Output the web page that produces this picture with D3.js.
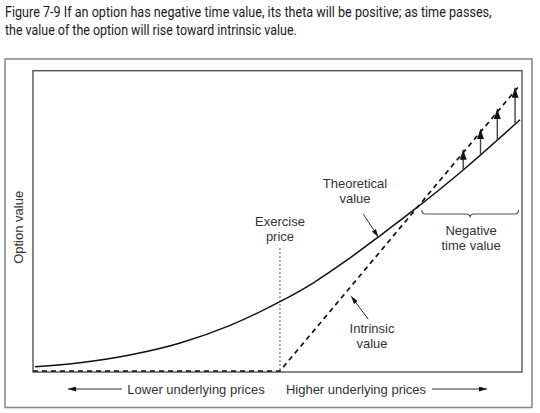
<!DOCTYPE html>
<html>
<head>
<meta charset="utf-8">
<script src="https://cdn.jsdelivr.net/npm/d3@7/dist/d3.min.js"></script>
<style>
  html, body { margin: 0; padding: 0; background: #fff; }
  svg { display: block; }
</style>
</head>
<body>
<svg id="chart" width="540" height="413"></svg>
<script>
// ---- data ----
const titleLines = [
  "Figure 7-9  If an option has negative time value, its theta will be positive; as time passes,",
  "the value of the option will rise toward intrinsic value."
];
const titleWidths = [487, 292];
const exercisePrice = 50;
const prices      = [0.4, 9.5, 19.6, 29.8, 39.9, 50.0, 56.7, 63.6, 70.3, 76.9, 87.1, 98.6];
const theoretical = [0.9, 1.57, 2.88, 4.91, 7.9, 11.9, 15.06, 18.96, 23.1, 27.3, 34.2, 42.7];
const intrinsicPrices = [0, 50, 98.6];
const intrinsicValues = [0, 0, 48.6];
const arrowPrices = [87.1, 90.6, 94.0, 97.6];
const braceRange = [78.7, 98.3];
const yLabel = "Option value";
const xLabels = ["Lower underlying prices", "Higher underlying prices"];

// ---- layout ----
const svg = d3.select("#chart");
const plot = { left: 33, right: 522, top: 70.7, bottom: 372 };
const x = d3.scaleLinear().domain([0, 99]).range([plot.left, plot.right]);
const y = d3.scaleLinear().domain([0, 51]).range([plot.bottom, plot.top]);
const theo = d3.scaleLinear().domain(prices).range(theoretical);

const labelFont = "'Liberation Sans', Arial, Helvetica, sans-serif";
const textCol = "#333";

const defs = svg.append("defs");
function marker(id, w, l) {
  defs.append("marker")
    .attr("id", id).attr("markerUnits", "userSpaceOnUse")
    .attr("viewBox", `0 ${-w/2} ${l} ${w}`)
    .attr("refX", l).attr("refY", 0)
    .attr("markerWidth", l).attr("markerHeight", w)
    .attr("orient", "auto")
    .append("path").attr("d", `M0,${-w/2}L${l},0L0,${w/2}Z`).attr("fill", "#111");
}
marker("ah", 7, 10);
marker("ahs", 5, 8);

// title (scaled horizontally to the reference's condensed width)
titleLines.forEach((line, i) => {
  const g = svg.append("g").attr("transform", `translate(5, ${17 + i * 17.5})`);
  const t = g.append("text").attr("x", 0).attr("y", 0)
    .style("font-family", "'Roboto', 'Liberation Sans', sans-serif")
    .style("font-size", "14px").style("font-weight", 400)
    .attr("fill", "#1a1a1a")
    .text(line);
  const w = t.node().getComputedTextLength();
  g.attr("transform", `translate(5, ${17 + i * 17.5}) scale(${titleWidths[i] / w}, 1)`);
});

// outer frame
svg.append("rect").attr("x", 5).attr("y", 59).attr("width", 527).attr("height", 348.5)
  .attr("fill", "none").attr("stroke", "#8a8a8a").attr("stroke-width", 1.6);

// plot frame
svg.append("rect").attr("x", plot.left).attr("y", plot.top)
  .attr("width", plot.right - plot.left).attr("height", plot.bottom - plot.top)
  .attr("fill", "none").attr("stroke", "#555").attr("stroke-width", 1.4);

// exercise price dotted line
svg.append("line")
  .attr("x1", x(exercisePrice)).attr("x2", x(exercisePrice))
  .attr("y1", 248).attr("y2", y(0))
  .attr("stroke", "#555").attr("stroke-width", 1).attr("stroke-dasharray", "2,2");

// intrinsic value dashed
const intrinsic = intrinsicPrices.map((p, i) => [p, intrinsicValues[i]]);
svg.append("path").datum(intrinsic)
  .attr("d", d3.line().x(d => x(d[0])).y(d => y(d[1]) - (d[1] === 0 ? 1 : 0)))
  .attr("fill", "none").attr("stroke", "#111").attr("stroke-width", 1.7)
  .attr("stroke-dasharray", "5,4");

// theoretical value curve
const theoPts = prices.map((p, i) => [p, theoretical[i]]);
svg.append("path").datum(theoPts)
  .attr("d", d3.line().curve(d3.curveMonotoneX).x(d => x(d[0])).y(d => y(d[1])))
  .attr("fill", "none").attr("stroke", "#111").attr("stroke-width", 1.5);

// vertical arrows (rise toward intrinsic value)
svg.selectAll("line.rise").data(arrowPrices).enter().append("line")
  .attr("class", "rise")
  .attr("x1", d => x(d)).attr("x2", d => x(d))
  .attr("y1", d => y(theo(d))).attr("y2", d => y(d - exercisePrice) - 3)
  .attr("stroke", "#444").attr("stroke-width", 1.4)
  .attr("marker-end", "url(#ah)");

// brace
{
  const x1 = x(braceRange[0]), x2 = x(braceRange[1]), mx = (x1 + x2) / 2;
  const y0 = 210, y1 = 214, y2 = 217.5, r = 4;
  svg.append("path")
    .attr("d", `M${x1},${y0} Q${x1},${y1} ${x1 + r},${y1} L${mx - r},${y1} Q${mx},${y1} ${mx},${y2} Q${mx},${y1} ${mx + r},${y1} L${x2 - r},${y1} Q${x2},${y1} ${x2},${y0}`)
    .attr("fill", "none").attr("stroke", "#555").attr("stroke-width", 1.1);
  svg.selectAll("text.neg").data(["Negative", "time value"]).enter().append("text")
    .attr("class", "neg").attr("x", mx + 1).attr("y", (d, i) => 235 + i * 15)
    .attr("text-anchor", "middle")
    .style("font-family", labelFont).style("font-size", "13px").attr("fill", textCol)
    .text(d => d);
}

function label(lines, cx, by) {
  svg.append("g").selectAll("text").data(lines).enter().append("text")
    .attr("x", cx).attr("y", (d, i) => by + i * 14.5)
    .attr("text-anchor", "middle")
    .style("font-family", labelFont).style("font-size", "13px").attr("fill", textCol)
    .text(d => d);
}

// theoretical label + arrow
label(["Theoretical", "value"], 355, 188);
{
  const p = 69.9, tx = x(p), ty = y(theo(p));
  svg.append("line").attr("x1", tx - 15).attr("y1", ty - 23).attr("x2", tx).attr("y2", ty)
    .attr("stroke", "#333").attr("stroke-width", 1).attr("marker-end", "url(#ahs)");
}

// exercise price label
label(["Exercise", "price"], x(exercisePrice), 226);

// intrinsic label + arrow
label(["Intrinsic", "value"], 372, 333);
{
  const p = 63.0, tx = x(p) + 7, ty = y(p - exercisePrice) + 1;
  svg.append("line").attr("x1", tx + 17).attr("y1", ty + 23).attr("x2", tx).attr("y2", ty)
    .attr("stroke", "#333").attr("stroke-width", 1).attr("marker-end", "url(#ahs)");
}

// y label
svg.append("text")
  .attr("transform", `translate(23, ${(plot.top + plot.bottom) / 2 + 6}) rotate(-90)`)
  .attr("text-anchor", "middle")
  .style("font-family", labelFont).style("font-size", "13px").attr("fill", textCol)
  .text(yLabel);

// bottom labels & arrows
const by = 389;
svg.append("text").attr("x", 196).attr("y", by + 4.5).attr("text-anchor", "middle")
  .style("font-family", labelFont).style("font-size", "13px").attr("fill", textCol)
  .text(xLabels[0]);
svg.append("text").attr("x", 356).attr("y", by + 4.5).attr("text-anchor", "middle")
  .style("font-family", labelFont).style("font-size", "13px").attr("fill", textCol)
  .text(xLabels[1]);
svg.append("line").attr("x1", 122).attr("y1", by).attr("x2", 68).attr("y2", by)
  .attr("stroke", "#333").attr("stroke-width", 1).attr("marker-end", "url(#ahs)");
svg.append("line").attr("x1", 432).attr("y1", by).attr("x2", 487).attr("y2", by)
  .attr("stroke", "#333").attr("stroke-width", 1).attr("marker-end", "url(#ahs)");
</script>
</body>
</html>
